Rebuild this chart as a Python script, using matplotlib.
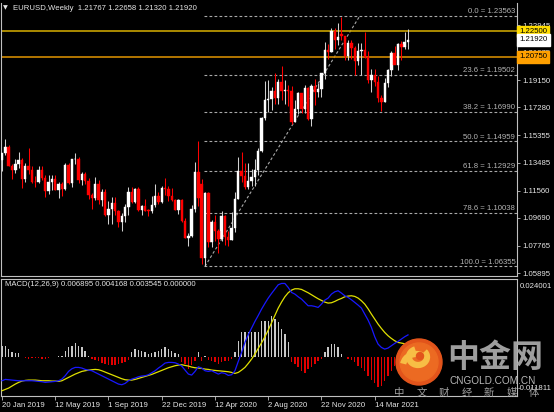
import numpy as np
import matplotlib
matplotlib.use('Agg')
import matplotlib.pyplot as plt
from matplotlib.patches import Circle, Arc
import matplotlib.transforms as mtransforms

plt.rcParams['font.family'] = ['Liberation Sans', 'DejaVu Sans']

# weekly EURUSD candles, 20 Jan 2019 .. 23 May 2021
opens = [1.1365, 1.1413, 1.1456, 1.1324, 1.1295, 1.1336, 1.1365, 1.1236, 1.1325, 1.1300,
         1.1218, 1.1216, 1.1297, 1.1246, 1.1150, 1.1217, 1.1236, 1.1157, 1.1203, 1.1169,
         1.1333, 1.1208, 1.1370, 1.1372, 1.1226, 1.1270, 1.1219, 1.1127, 1.1108, 1.1200,
         1.1090, 1.1143, 1.0990, 1.1027, 1.1074, 1.1016, 1.0940, 1.0978, 1.1042, 1.1143,
         1.1079, 1.1165, 1.1020, 1.1051, 1.1019, 1.1018, 1.1059, 1.1121, 1.1078, 1.1176,
         1.1165, 1.1120, 1.1090, 1.1026, 1.1093, 1.0944, 1.0831, 1.0847, 1.1027, 1.1285,
         1.1200, 1.0694, 1.1141, 1.0800, 1.0937, 1.0875, 1.0820, 1.0980, 1.0838, 1.0818,
         1.0900, 1.1100, 1.1290, 1.1255, 1.1180, 1.1220, 1.1248, 1.1300, 1.1427, 1.1656,
         1.1778, 1.1788, 1.1842, 1.1794, 1.1904, 1.1838, 1.1845, 1.1838, 1.1631, 1.1715,
         1.1827, 1.1717, 1.1860, 1.1647, 1.1875, 1.1833, 1.1856, 1.1963, 1.2121, 1.2112,
         1.2255, 1.2188, 1.2235, 1.2218, 1.2082, 1.2170, 1.2136, 1.2045, 1.2118, 1.2120,
         1.2076, 1.1914, 1.1953, 1.1903, 1.1794, 1.1763, 1.1899, 1.1983, 1.2100, 1.2020,
         1.2165, 1.2140, 1.21767]
highs = [1.1417, 1.1514, 1.1470, 1.1342, 1.1370, 1.1420, 1.1380, 1.1345, 1.1448, 1.1325,
         1.1255, 1.1325, 1.1324, 1.1265, 1.1265, 1.1264, 1.1260, 1.1215, 1.1217, 1.1348,
         1.1346, 1.1373, 1.1412, 1.1390, 1.1287, 1.1282, 1.1240, 1.1140, 1.1250, 1.1230,
         1.1165, 1.1165, 1.1085, 1.1110, 1.1110, 1.1025, 1.0999, 1.1063, 1.1179, 1.1180,
         1.1175, 1.1180, 1.1055, 1.1097, 1.1032, 1.1117, 1.1200, 1.1147, 1.1190, 1.1240,
         1.1185, 1.1173, 1.1097, 1.1095, 1.1095, 1.0965, 1.0865, 1.1054, 1.1355, 1.1496,
         1.1237, 1.1147, 1.1147, 1.0952, 1.0990, 1.0890, 1.1019, 1.0990, 1.0875, 1.1009,
         1.1147, 1.1384, 1.1422, 1.1348, 1.1349, 1.1303, 1.1375, 1.1452, 1.1660, 1.1909,
         1.1916, 1.1866, 1.1966, 1.1922, 1.2011, 1.1917, 1.1883, 1.1872, 1.1779, 1.1831,
         1.1830, 1.1881, 1.1870, 1.1891, 1.1920, 1.1893, 1.1963, 1.2177, 1.2163, 1.2273,
         1.2273, 1.2310, 1.2349, 1.2222, 1.2190, 1.2190, 1.2150, 1.2170, 1.2170, 1.2243,
         1.2113, 1.1990, 1.1989, 1.1942, 1.1814, 1.1927, 1.1994, 1.2117, 1.2150, 1.2170,
         1.2182, 1.2245, 1.22658]
lows = [1.1289, 1.1400, 1.1323, 1.1234, 1.1276, 1.1310, 1.1176, 1.1215, 1.1270, 1.1210,
        1.1184, 1.1210, 1.1227, 1.1111, 1.1135, 1.1160, 1.1158, 1.1105, 1.1116, 1.1160,
        1.1201, 1.1181, 1.1340, 1.1208, 1.1193, 1.1200, 1.1101, 1.1027, 1.1090, 1.1065,
        1.1052, 1.0984, 1.0926, 1.0927, 1.0990, 1.0906, 1.0879, 1.0940, 1.0990, 1.1072,
        1.1070, 1.1016, 1.0989, 1.1014, 1.0981, 1.1002, 1.1040, 1.1065, 1.1068, 1.1125,
        1.1086, 1.1087, 1.1024, 1.0992, 1.0940, 1.0827, 1.0778, 1.0840, 1.1010, 1.1053,
        1.0654, 1.0636, 1.0769, 1.0768, 1.0810, 1.0727, 1.0810, 1.0782, 1.0775, 1.0813,
        1.0870, 1.1095, 1.1218, 1.1168, 1.1168, 1.1185, 1.1186, 1.1260, 1.1420, 1.1640,
        1.1696, 1.1711, 1.1752, 1.1754, 1.1781, 1.1753, 1.1737, 1.1612, 1.1625, 1.1685,
        1.1688, 1.1689, 1.1640, 1.1603, 1.1745, 1.1800, 1.1800, 1.1923, 1.2058, 1.2111,
        1.2130, 1.2160, 1.2190, 1.2054, 1.2051, 1.2060, 1.1952, 1.2020, 1.1952, 1.2070,
        1.1893, 1.1836, 1.1874, 1.1762, 1.1704, 1.1762, 1.1870, 1.1945, 1.2025, 1.1986,
        1.2051, 1.2130, 1.21320]
closes = [1.1413, 1.1456, 1.1324, 1.1295, 1.1336, 1.1365, 1.1236, 1.1325, 1.1300, 1.1218,
          1.1216, 1.1297, 1.1246, 1.1150, 1.1217, 1.1236, 1.1157, 1.1203, 1.1169, 1.1333,
          1.1208, 1.1370, 1.1372, 1.1226, 1.1270, 1.1219, 1.1127, 1.1108, 1.1200, 1.1090,
          1.1143, 1.0990, 1.1027, 1.1074, 1.1016, 1.0940, 1.0978, 1.1042, 1.1143, 1.1079,
          1.1165, 1.1020, 1.1051, 1.1019, 1.1018, 1.1059, 1.1121, 1.1078, 1.1176, 1.1165,
          1.1120, 1.1090, 1.1026, 1.1093, 1.0944, 1.0831, 1.0847, 1.1027, 1.1285, 1.1105,
          1.0694, 1.1141, 1.0800, 1.0937, 1.0875, 1.0820, 1.0980, 1.0838, 1.0818, 1.0900,
          1.1100, 1.1290, 1.1255, 1.1180, 1.1220, 1.1248, 1.1300, 1.1427, 1.1656, 1.1778,
          1.1788, 1.1842, 1.1794, 1.1904, 1.1838, 1.1845, 1.1838, 1.1631, 1.1715, 1.1827,
          1.1717, 1.1860, 1.1647, 1.1875, 1.1833, 1.1856, 1.1963, 1.2121, 1.2112, 1.2255,
          1.2188, 1.2215, 1.2218, 1.2082, 1.2170, 1.2136, 1.2045, 1.2118, 1.2120, 1.2076,
          1.1914, 1.1953, 1.1903, 1.1794, 1.1763, 1.1899, 1.1983, 1.2100, 1.2020, 1.2165,
          1.2140, 1.2180, 1.21920]

# MACD(12,26,9) panel
macd_main = [-0.00714, -0.00673, -0.00683, -0.00694, -0.00704, -0.00714, -0.00714, -0.00714, -0.00714, -0.00714,
             -0.00724, -0.00734, -0.00745, -0.00765, -0.00755, -0.00745, -0.00734, -0.00714, -0.00663, -0.00561,
             -0.00428, -0.00347, -0.00306, -0.00306, -0.00326, -0.00367, -0.00388, -0.00408, -0.00459, -0.00510,
             -0.00561, -0.00612, -0.00663, -0.00714, -0.00765, -0.00816, -0.00836, -0.00796, -0.00714, -0.00663,
             -0.00632, -0.00592, -0.00571, -0.00561, -0.00530, -0.00469, -0.00408, -0.00326, -0.00255, -0.00173,
             -0.00153, -0.00153, -0.00163, -0.00204, -0.00265, -0.00388, -0.00510, -0.00541, -0.00428, -0.00286,
             -0.00326, -0.00408, -0.00428, -0.00408, -0.00459, -0.00510, -0.00469, -0.00490, -0.00551, -0.00530,
             -0.00408, -0.00122, 0.00153, 0.00459, 0.00694, 0.00898, 0.01102, 0.01285, 0.01479, 0.01652,
             0.01816, 0.01958, 0.02091, 0.02224, 0.02264, 0.02264, 0.02142, 0.01989, 0.01938, 0.01856,
             0.01785, 0.01683, 0.01581, 0.01581, 0.01561, 0.01530, 0.01632, 0.01754, 0.01816, 0.01938,
             0.02009, 0.02040, 0.01969, 0.01887, 0.01836, 0.01765, 0.01683, 0.01601, 0.01510, 0.01326,
             0.01142, 0.00918, 0.00632, 0.00408, 0.00306, 0.00255, 0.00286, 0.00357, 0.00428, 0.00490,
             0.00561, 0.00632, 0.006895]
macd_signal = [-0.01020, -0.00979, -0.00938, -0.00877, -0.00816, -0.00765, -0.00724, -0.00704, -0.00694, -0.00694,
               -0.00694, -0.00704, -0.00714, -0.00714, -0.00714, -0.00724, -0.00724, -0.00734, -0.00714, -0.00663,
               -0.00612, -0.00561, -0.00510, -0.00469, -0.00428, -0.00408, -0.00388, -0.00377, -0.00367, -0.00377,
               -0.00408, -0.00449, -0.00490, -0.00530, -0.00571, -0.00612, -0.00653, -0.00683, -0.00694, -0.00694,
               -0.00673, -0.00643, -0.00612, -0.00581, -0.00551, -0.00520, -0.00479, -0.00439, -0.00398, -0.00357,
               -0.00316, -0.00286, -0.00255, -0.00235, -0.00224, -0.00245, -0.00265, -0.00296, -0.00316, -0.00326,
               -0.00337, -0.00357, -0.00367, -0.00388, -0.00398, -0.00408, -0.00418, -0.00428, -0.00439, -0.00459,
               -0.00490, -0.00459, -0.00388, -0.00306, -0.00184, -0.00051, 0.00102, 0.00275, 0.00449, 0.00632,
               0.00836, 0.01061, 0.01285, 0.01510, 0.01693, 0.01856, 0.01979, 0.02060, 0.02101, 0.02101,
               0.02081, 0.02030, 0.01979, 0.01918, 0.01856, 0.01795, 0.01744, 0.01693, 0.01663, 0.01673,
               0.01714, 0.01765, 0.01805, 0.01856, 0.01877, 0.01887, 0.01867, 0.01816, 0.01734, 0.01632,
               0.01489, 0.01326, 0.01173, 0.01020, 0.00887, 0.00765, 0.00663, 0.00581, 0.00510, 0.00459,
               0.00439, 0.00418, 0.004168]
macd_hist = [0.00357, 0.00357, 0.00255, 0.00153, 0.00122, 0.00122, 0.00010, -0.00031, -0.00041, -0.00031,
             -0.00020, -0.00031, -0.00041, -0.00041, -0.00020, 0.00010, 0.00020, 0.00041, 0.00051, 0.00204,
             0.00306, 0.00357, 0.00428, 0.00357, 0.00306, 0.00204, 0.00051, -0.00051, -0.00082, -0.00122,
             -0.00163, -0.00204, -0.00235, -0.00245, -0.00224, -0.00204, -0.00184, -0.00143, -0.00082, 0.00153,
             0.00255, 0.00224, 0.00204, 0.00153, 0.00102, 0.00122, 0.00153, 0.00184, 0.00255, 0.00306,
             0.00255, 0.00204, 0.00122, 0.00102, -0.00153, -0.00204, -0.00357, -0.00224, -0.00122, 0.00153,
             -0.00102, 0.00051, -0.00082, -0.00102, -0.00153, -0.00204, -0.00153, -0.00122, -0.00102, -0.00051,
             0.00153, 0.00510, 0.00765, 0.00765, 0.00765, 0.00765, 0.00765, 0.00765, 0.01122, 0.01122,
             0.01122, 0.01275, 0.01173, 0.01071, 0.00867, 0.00714, 0.00459, -0.00153, -0.00204, -0.00306,
             -0.00408, -0.00490, -0.00357, -0.00286, -0.00204, -0.00102, -0.00051, 0.00153, 0.00306, 0.00408,
             0.00408, 0.00306, 0.00102, 0.00020, -0.00051, -0.00082, -0.00153, -0.00255, -0.00326, -0.00408,
             -0.00561, -0.00694, -0.00796, -0.00918, -0.00867, -0.00714, -0.00561, -0.00408, -0.00255, -0.00153,
             -0.00102, -0.00051, -0.00020]

date_labels = ['20 Jan 2019', '12 May 2019', '1 Sep 2019', '22 Dec 2019',
               '12 Apr 2020', '2 Aug 2020', '22 Nov 2020', '14 Mar 2021']
date_label_bars = [0, 16, 32, 48, 64, 80, 96, 112]

price_ticks = [1.22945, 1.21075, 1.19150, 1.17280, 1.15355, 1.13485,
               1.11560, 1.09690, 1.07765, 1.05895]
fib_names = ['0.0', '23.6', '38.2', '50.0', '61.8', '78.6', '100.0']
fib_prices = [1.23563, 1.19502, 1.16990, 1.14959, 1.12929, 1.10038, 1.06355]
fib_bars = [61, 107.5]        # low bar and end of the diagonal
level_prices = [1.22500, 1.20750]
level_colors = ['#C8A200', '#D08A00']
level_box_colors = ['#FFDC00', '#FFA000']
last_close = 1.21920

W, H = 554, 412
BG = 'black'
FG = '#E6E6E6'
GRID = '#C0C0C0'
FS = 5.6

fig = plt.figure(figsize=(W / 100, H / 100), dpi=100, facecolor=BG)
ax = fig.add_axes([1 / W, 1 - 276 / H, 516 / W, 273 / H], facecolor=BG)
axm = fig.add_axes([1 / W, 1 - 396 / H, 516 / W, 117 / H], facecolor=BG)

n = len(closes)
x = np.arange(n)
o = np.array(opens); c = np.array(closes)
hi = np.array(highs); lo = np.array(lows)
up = c >= o

# candles
ax.vlines(x[up], lo[up], hi[up], color='#D0D0D0', lw=0.75, zorder=3)
ax.vlines(x[~up], lo[~up], hi[~up], color='#FF0000', lw=0.75, zorder=3)
body = np.maximum(np.abs(c - o), 0.00025)
ax.bar(x[up], body[up], bottom=np.minimum(o, c)[up], width=0.72,
       color='white', edgecolor='white', lw=0.3, zorder=4)
ax.bar(x[~up], body[~up], bottom=np.minimum(o, c)[~up], width=0.72,
       color='#FF0000', edgecolor='#FF0000', lw=0.3, zorder=4)

xmin, xmax = -0.3, 154.75
ax.set_xlim(xmin, xmax)
ax.set_ylim(1.0568875, 1.244575)

# fibonacci retracement
for name, p in zip(fib_names, fib_prices):
    ax.plot([fib_bars[0] - 0.3, xmax], [p, p], color='#A8A8A8', lw=0.8,
            ls=(0, (2.5, 2)), zorder=2)
    ax.text(xmax - 0.5, p + 0.0004, '%s = %.5f' % (name, p), color='#B4B4B4',
            fontsize=FS, ha='right', va='bottom', zorder=6)
ax.plot(fib_bars, [fib_prices[-1], fib_prices[0]], color='#A8A8A8', lw=0.8,
        ls=(0, (2.5, 2)), zorder=2)

# horizontal levels
for p, col in zip(level_prices, level_colors):
    ax.axhline(p, color=col, lw=1.2, zorder=2)

trans = mtransforms.blended_transform_factory(ax.transAxes, ax.transData)
for p, fc in zip(level_prices, level_box_colors):
    ax.text(1.004, p, '%.5f' % p, transform=trans, fontsize=FS, color='black',
            ha='left', va='center', clip_on=False, zorder=10,
            bbox=dict(boxstyle='square,pad=0.3', fc=fc, ec=fc))
ax.text(1.004, last_close, '%.5f' % last_close, transform=trans, fontsize=FS,
        color='black', ha='left', va='center', clip_on=False, zorder=10,
        bbox=dict(boxstyle='square,pad=0.3', fc='white', ec='white'))

# MACD panel
xm = np.arange(len(macd_hist))
hist = np.array(macd_hist)
pos = hist >= 0
axm.bar(xm[pos], hist[pos], width=0.42, color='#C8C8C8', zorder=2)
axm.bar(xm[~pos], hist[~pos], width=0.42, color='#E00000', zorder=2)
axm.plot(xm, macd_signal, color='#E0E000', lw=0.9, zorder=3)
axm.plot(xm, macd_main, color='#1818FF', lw=0.9, zorder=4)
axm.set_xlim(xmin, xmax)
axm.set_ylim(-0.011811, 0.024001)

for a in (ax, axm):
    for s in a.spines.values():
        s.set_color(GRID)
        s.set_linewidth(0.8)
    a.yaxis.tick_right()
    a.tick_params(axis='y', colors=GRID, labelcolor=FG, labelsize=FS,
                  length=2, width=0.6, pad=1.5)
ax.spines['top'].set_visible(False)

ax.set_yticks(price_ticks)
ax.set_yticklabels(['%.5f' % t for t in price_ticks])
ax.set_xticks([])

axm.set_yticks([])
axm.text(1.005, 0.97, '0.024001', transform=axm.transAxes, color=FG,
         fontsize=FS, ha='left', va='top', clip_on=False)
axm.text(1.002, 0.03, '-0.011811', transform=axm.transAxes, color=FG,
         fontsize=FS, ha='left', va='bottom', clip_on=False)

axm.set_xticks(date_label_bars)
axm.set_xticklabels(date_labels)
axm.tick_params(axis='x', colors=GRID, labelcolor=FG, labelsize=FS,
                length=3, width=0.6, pad=1.5)
for lab in axm.get_xticklabels():
    lab.set_horizontalalignment('left')

# header texts
fig.text(3 / W, 1 - 8 / H, '\u25bc', color=FG, fontsize=4.5, va='center', ha='left',
         family='DejaVu Sans')
fig.text(13 / W, 1 - 8 / H, 'EURUSD,Weekly  1.21767 1.22658 1.21320 1.21920',
         color=FG, fontsize=FS, va='center', ha='left')
fig.text(5 / W, 1 - 285 / H, 'MACD(12,26,9) 0.006895 0.004168 0.003545 0.000000',
         color=FG, fontsize=FS, va='center', ha='left')

# cngold watermark
ov = fig.add_axes([0, 0, 1, 1], facecolor='none', zorder=20)
ov.set_xlim(0, W)
ov.set_ylim(H, 0)
ov.axis('off')
ov.add_patch(Circle((419, 362), 23, color='#E2541B', zorder=1))
ov.add_patch(Circle((419, 362), 19, color='#EC6A22', zorder=1))
ov.add_patch(Arc((418, 357), 18, 16, theta1=-40, theta2=250, color='#F7BE45', lw=4.5, zorder=2))
ov.add_patch(Arc((416, 366), 26, 24, theta1=190, theta2=300, color='#F7BE45', lw=4.5, zorder=2))
ov.add_patch(Circle((420, 356), 3.5, color='#E2541B', zorder=3))
ov.text(447, 358, '中金网', fontsize=23, color='#A8A8A8', fontweight='bold',
        family=['Noto Sans CJK SC', 'DejaVu Sans'], ha='left', va='center', alpha=0.95)
ov.text(493, 381, 'CNGOLD.COM.CN', fontsize=7.2, color='#B8B8B8', ha='center',
        va='center')
for i, ch in enumerate('中文财经新媒体'):
    ov.text(399 + i * 22.5, 393, ch, fontsize=7.5, color='#A0A0A0', ha='center',
            va='center', family=['Noto Sans CJK SC', 'DejaVu Sans'])

fig.savefig('out.png', dpi=100, facecolor=BG)
